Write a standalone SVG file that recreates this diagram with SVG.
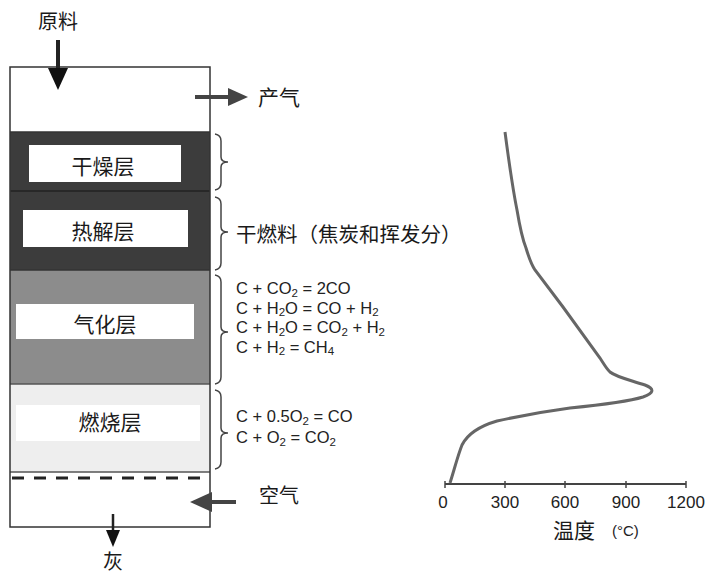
<svg xmlns="http://www.w3.org/2000/svg" width="707" height="574" viewBox="0 0 707 574">
<style>
.cn{font-family:"Noto Sans CJK SC","Noto Sans",sans-serif;fill:#1a1a1a;}
.eq{font-family:"Liberation Sans",Arial,sans-serif;fill:#222;font-size:16.5px;}
.sub{font-size:11.5px;}
.lbl{fill:#fff;}
.brace{fill:none;stroke:#444;stroke-width:1.5;}
.arr{stroke:#222;stroke-width:4;fill:none;}
.tick{font-family:"Liberation Sans",Arial,sans-serif;fill:#222;font-size:17px;text-anchor:middle;}
</style>
<rect width="707" height="574" fill="#fff"/>
<g id="reactor">
<rect x="10" y="67" width="200" height="65" fill="#fff"/>
<rect x="10" y="132" width="200" height="138" fill="#3c3c3c"/>
<line x1="10" y1="191" x2="210" y2="191" stroke="#222" stroke-width="1.5"/>
<rect x="10" y="270" width="200" height="114" fill="#8c8c8c"/>
<rect x="10" y="384" width="200" height="88" fill="#eeeeee"/>
<line x1="10" y1="132" x2="210" y2="132" stroke="#333" stroke-width="1.5"/>
<line x1="10" y1="270" x2="210" y2="270" stroke="#333" stroke-width="1.5"/>
<line x1="10" y1="384" x2="210" y2="384" stroke="#555" stroke-width="1.5"/>
<line x1="10" y1="472" x2="210" y2="472" stroke="#555" stroke-width="1.5"/>
<line x1="12" y1="478" x2="208" y2="478" stroke="#222" stroke-width="3" stroke-dasharray="12,10"/>
<rect x="10" y="67" width="200" height="460" fill="none" stroke="#333" stroke-width="1.5"/>
</g>
<g id="dry">
<rect class="lbl" x="29" y="145" width="152" height="37"/>
<text class="cn" x="103" y="174" font-size="21" text-anchor="middle">干燥层</text>
</g>
<g id="pyro">
<rect class="lbl" x="23" y="210" width="165" height="37"/>
<text class="cn" x="103" y="239" font-size="21" text-anchor="middle">热解层</text>
</g>
<g id="gasif">
<rect class="lbl" x="16" y="304" width="178" height="35"/>
<text class="cn" x="105" y="332" font-size="21" text-anchor="middle">气化层</text>
</g>
<g id="comb">
<rect class="lbl" x="16" y="405" width="184" height="36"/>
<text class="cn" x="110" y="430" font-size="21" text-anchor="middle">燃烧层</text>
</g>
<g id="connectors">
<line class="arr" x1="58" y1="40" x2="58" y2="70"/>
<polygon points="48,68 68,68 58,90" fill="#111"/>
<line x1="195" y1="97" x2="230" y2="97" stroke="#444" stroke-width="4"/>
<polygon points="228,88 248,97 228,106" fill="#444"/>
<line x1="212" y1="502" x2="236" y2="502" stroke="#444" stroke-width="4"/>
<polygon points="212,492 190,502 212,512" fill="#444"/>
<line x1="113" y1="514" x2="113" y2="532" stroke="#222" stroke-width="2.5"/>
<polygon points="106,530 120,530 113,547" fill="#111"/>
<path class="brace" d="M215,134 Q221,135 221,141 L221,157 Q221,162 228,162 Q221,162 221,167 L221,183 Q221,189 215,190"/>
<path class="brace" d="M215,197 Q221,198 221,204 L221,227 Q221,232 228,232 Q221,232 221,237 L221,263 Q221,269 215,270"/>
<path class="brace" d="M215,275 Q221,276 221,282 L221,327 Q221,332 228,332 Q221,332 221,337 L221,377 Q221,383 215,384"/>
<path class="brace" d="M215,390 Q221,391 221,397 L221,428 Q221,433 228,433 Q221,433 221,438 L221,462 Q221,468 215,469"/>
</g>
<g id="labels">
<text class="cn" x="58" y="29" font-size="20" text-anchor="middle">原料</text>
<text class="cn" x="258" y="105" font-size="21">产气</text>
<text class="cn" x="236" y="242" font-size="20.5">干燃料（焦炭和挥发分）</text>
<text class="cn" x="259" y="503" font-size="20">空气</text>
<text class="cn" x="113" y="569" font-size="20" text-anchor="middle">灰</text>
</g>
<g id="equations">
<text class="eq" x="236" y="294">C + CO<tspan class="sub" dy="2.5">2</tspan><tspan dy="-2.5"> = 2CO</tspan></text>
<text class="eq" x="236" y="313.5">C + H<tspan class="sub" dy="2.5">2</tspan><tspan dy="-2.5">O = CO + H</tspan><tspan class="sub" dy="2.5">2</tspan></text>
<text class="eq" x="236" y="333">C + H<tspan class="sub" dy="2.5">2</tspan><tspan dy="-2.5">O = CO</tspan><tspan class="sub" dy="2.5">2</tspan><tspan dy="-2.5"> + H</tspan><tspan class="sub" dy="2.5">2</tspan></text>
<text class="eq" x="236" y="352.5">C + H<tspan class="sub" dy="2.5">2</tspan><tspan dy="-2.5"> = CH</tspan><tspan class="sub" dy="2.5">4</tspan></text>
<text class="eq" x="236" y="422">C + 0.5O<tspan class="sub" dy="2.5">2</tspan><tspan dy="-2.5"> = CO</tspan></text>
<text class="eq" x="236" y="443">C + O<tspan class="sub" dy="2.5">2</tspan><tspan dy="-2.5"> = CO</tspan><tspan class="sub" dy="2.5">2</tspan></text>
</g>
<g id="chart">
<line x1="445" y1="484" x2="686" y2="484" stroke="#444" stroke-width="2"/>
<g stroke="#444" stroke-width="1.5">
<line x1="445" y1="481" x2="445" y2="488"/>
<line x1="505" y1="481" x2="505" y2="488"/>
<line x1="565" y1="481" x2="565" y2="488"/>
<line x1="626" y1="481" x2="626" y2="488"/>
<line x1="686" y1="481" x2="686" y2="488"/>
</g>
<text class="tick" x="443" y="508">0</text>
<text class="tick" x="505" y="508">300</text>
<text class="tick" x="565" y="508">600</text>
<text class="tick" x="626" y="508">900</text>
<text class="tick" x="686" y="508">1200</text>
<text class="cn" x="553" y="538" font-size="21">温度</text>
<text x="612" y="536" font-family="Liberation Sans,Arial,sans-serif" font-size="15" fill="#222">(°C)</text>
<path d="M505,132 C510,170 514,195 517,210 C520,228 522,238 526,248 C529,258 531,264 535,270 L563,307 L600,358 C604,364 606,368 610,372 C616,377 630,380 645,385 C655,389 654,393 643,397 C630,401 610,404 570,408 C540,412 515,417 497,421 C480,426 468,433 462,445 C458,455 455,467 450,483" fill="none" stroke="#666" stroke-width="3"/>
</g>
</svg>
